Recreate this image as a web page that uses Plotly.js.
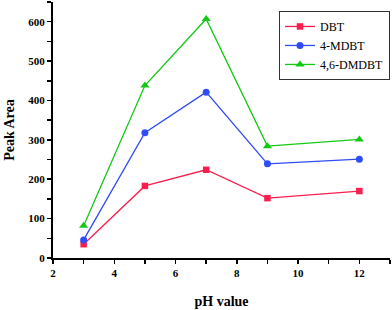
<!DOCTYPE html>
<html><head><meta charset="utf-8">
<script src="https://cdn.plot.ly/plotly-3.0.1.min.js"></script>
<style>body{margin:0;background:#fff}#c{width:392px;height:310px}</style>
</head><body><div id="c"></div>
<script>
const phValues = [3, 5, 7, 9, 12];
const dbt = [35, 183, 224, 152, 170];
const mdbt = [46, 318, 421, 239, 251];
const dmdbt = [82, 438, 607, 284, 301];
const seriesNames = ['DBT', '4-MDBT', '4,6-DMDBT'];

const serif = 'Liberation Serif, Times New Roman, serif';
const mk = (y, name, color, symbol, size) => ({
  x: phValues, y: y, name: name, type: 'scatter', mode: 'lines+markers',
  line: {color: color, width: 1.3},
  marker: {color: color, symbol: symbol, size: size}
});
const data = [
  mk(dbt, seriesNames[0], '#fa1e4e', 'square', 6.5),
  mk(mdbt, seriesNames[1], '#2f4cf5', 'circle', 7),
  mk(dmdbt, seriesNames[2], '#14c814', 'triangle-up', 8)
];
const axisCommon = {
  showgrid: false, zeroline: false, showline: true, linecolor: '#000', linewidth: 2,
  ticks: 'outside', ticklen: 4, tickwidth: 1.5, tickcolor: '#000',
  tickfont: {family: serif, size: 11, color: '#000', weight: 'bold'},
  minor: {ticks: 'outside', ticklen: 4, tickwidth: 1.5, tickcolor: '#000'}
};
const layout = {
  width: 392, height: 310,
  margin: {l: 53, r: 2, t: 2, b: 52},
  paper_bgcolor: '#fff', plot_bgcolor: '#fff',
  showlegend: true,
  legend: {x: 1, y: 0.965, xanchor: 'right', yanchor: 'top',
    bordercolor: '#333', borderwidth: 1, bgcolor: '#fff',
    font: {family: serif, size: 12, color: '#000'}, tracegroupgap: 0,
    itemwidth: 30},
  xaxis: Object.assign({}, axisCommon, {
    range: [2, 13], dtick: 2, tick0: 2,
    minor: Object.assign({}, axisCommon.minor, {dtick: 1}),
    title: {text: 'pH value', font: {family: serif, size: 14, color: '#000', weight: 'bold'}, standoff: 18}
  }),
  yaxis: Object.assign({}, axisCommon, {
    range: [0, 650], dtick: 100, tick0: 0,
    minor: Object.assign({}, axisCommon.minor, {dtick: 50}),
    title: {text: 'Peak Area', font: {family: serif, size: 14, color: '#000', weight: 'bold'}, standoff: 10}
  })
};
Plotly.newPlot('c', data, layout, {displayModeBar: false, staticPlot: true});
</script></body></html>
